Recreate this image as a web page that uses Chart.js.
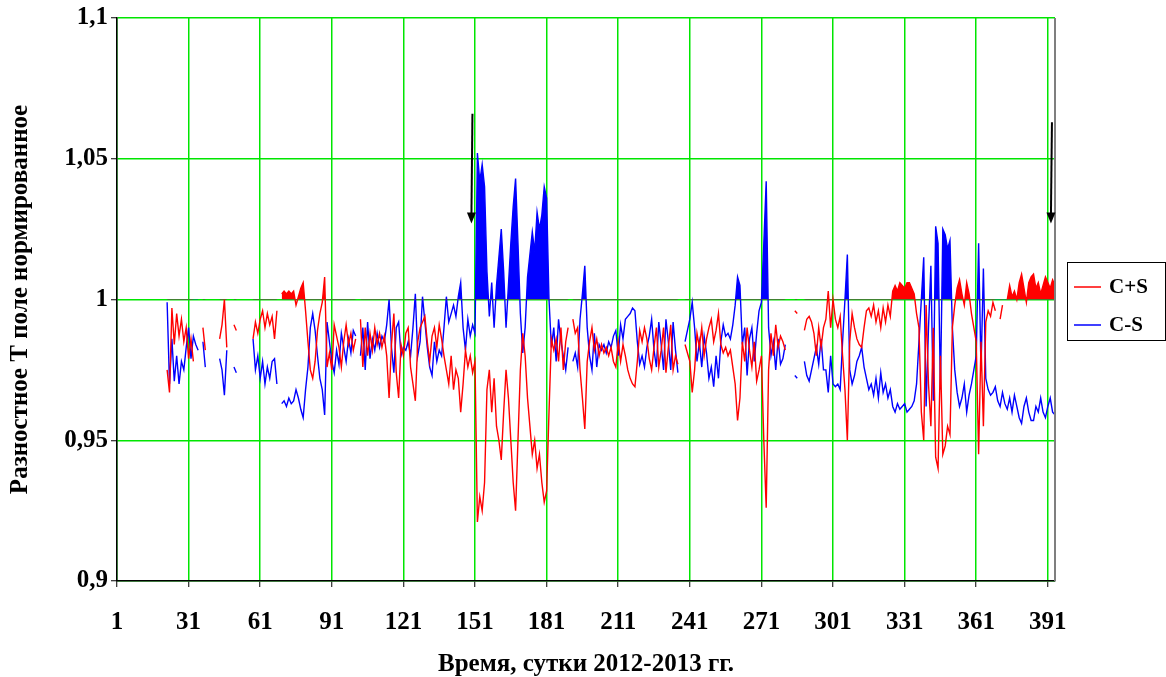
<!DOCTYPE html>
<html><head><meta charset="utf-8">
<script src="https://cdn.jsdelivr.net/npm/chart.js@4.4.1/dist/chart.umd.min.js"></script>
<style>html,body{margin:0;padding:0;background:#fff;overflow:hidden}</style>
</head><body>
<canvas id="c" width="1166" height="677"></canvas>
<script>
const firstDay = 22;
const seriesNames = ['C+S', 'C-S'];
const cps = [
0.975,0.967,0.997,0.984,0.995,0.987,0.993,0.985,0.990,0.979,
0.986,0.978,null,null,null,0.990,0.982,null,null,null,
null,null,0.986,0.991,1.000,0.983,null,null,0.991,0.989,
null,null,null,null,null,null,0.986,0.992,0.988,0.993,
0.996,0.990,0.995,0.991,0.994,0.986,0.996,null,1.002,1.003,
1.002,1.003,1.002,1.003,0.998,1.001,1.004,1.006,0.996,0.985,
0.975,0.972,0.978,0.989,0.995,0.999,1.008,0.976,0.981,0.975,
0.991,0.987,0.983,0.976,0.985,0.991,0.984,0.988,0.982,0.986,
null,0.993,0.976,0.990,0.980,0.988,0.982,0.990,0.984,0.988,
0.983,0.987,0.980,0.965,0.984,0.995,0.974,0.965,0.984,0.980,
0.988,0.990,0.976,0.970,0.964,0.985,0.990,0.992,0.994,0.985,
0.978,0.987,0.990,0.983,0.991,0.986,0.980,0.975,0.970,0.980,
0.968,0.975,0.972,0.960,0.970,0.982,0.976,0.980,0.974,0.978,
0.921,0.930,0.925,0.935,0.968,0.975,0.960,0.972,0.955,0.950,
0.943,0.960,0.975,0.965,0.950,0.935,0.925,0.950,0.975,0.988,
0.980,0.965,0.955,0.945,0.950,0.940,0.945,0.935,0.928,0.932,
0.960,0.986,0.982,0.986,0.978,0.990,0.975,0.985,0.990,null,
0.993,0.988,0.990,0.975,0.965,0.954,0.978,0.985,0.990,0.982,
0.986,0.980,0.984,0.981,0.983,0.980,0.983,0.978,0.976,0.985,
0.978,0.984,0.980,0.975,0.972,0.970,0.969,0.978,0.989,0.985,
0.990,0.986,0.979,0.975,0.983,0.990,0.976,0.982,0.990,0.974,
0.983,0.991,0.975,0.980,0.977,null,null,0.984,0.981,0.978,
0.967,0.975,0.988,0.983,0.990,0.980,0.986,0.990,0.993,0.985,
0.989,0.995,0.984,0.981,0.983,0.980,0.982,0.976,0.970,0.957,
0.965,0.985,0.978,0.990,0.982,0.976,0.985,0.971,0.975,0.980,
0.950,0.926,0.975,0.988,0.980,0.991,0.983,0.987,0.985,0.982,
null,null,null,0.996,0.995,null,null,0.989,0.993,0.994,
0.992,0.988,0.980,0.990,0.983,0.990,0.993,1.003,0.990,1.000,
0.993,0.990,0.994,0.980,0.968,0.950,0.985,0.995,0.990,0.986,
0.984,0.983,0.990,0.996,0.997,0.994,0.998,0.992,0.996,0.990,
0.997,0.992,0.998,0.994,1.003,1.005,1.003,1.006,1.005,1.004,
1.006,1.006,1.004,1.002,0.995,0.990,0.960,0.950,0.998,0.970,
0.955,0.990,0.944,0.940,0.980,0.945,0.948,0.955,0.952,0.990,
0.998,1.004,1.007,1.002,0.998,1.006,1.002,0.995,0.990,0.985,
0.945,0.985,0.955,0.992,0.996,0.994,0.999,0.996,null,0.993,
0.998,null,1.000,1.005,1.001,1.003,1.000,1.006,1.009,1.004,
0.999,1.006,1.008,1.009,1.004,1.006,1.002,1.005,1.008,1.006,
1.004,1.007,1.005
];
const cms = [
0.999,0.970,0.986,0.971,0.980,0.970,0.978,0.975,0.983,0.990,
0.979,0.987,0.984,0.982,null,0.985,0.976,null,null,null,
null,null,0.979,0.975,0.966,0.982,null,null,0.976,0.974,
null,null,null,null,null,null,0.986,0.975,0.980,0.972,
0.978,0.970,0.976,0.972,0.978,0.979,0.970,null,0.963,0.964,
0.962,0.965,0.963,0.964,0.968,0.965,0.961,0.958,0.968,0.976,
0.990,0.995,0.989,0.980,0.972,0.968,0.959,0.992,0.985,0.978,
0.974,0.982,0.977,0.988,0.983,0.978,0.986,0.981,0.989,0.987,
null,0.980,0.990,0.975,0.992,0.979,0.986,0.982,0.988,0.983,
0.987,0.985,0.991,1.000,0.983,0.974,0.990,0.992,0.980,0.983,
0.982,0.985,0.980,0.990,1.002,0.980,0.985,1.001,0.992,0.983,
0.976,0.973,0.985,0.978,0.982,0.980,0.990,1.001,0.992,0.995,
0.998,0.994,1.001,1.006,0.990,0.982,0.993,0.987,0.991,0.988,
1.052,1.042,1.048,1.040,1.010,0.994,1.006,0.990,1.005,1.015,
1.025,1.010,0.990,1.005,1.020,1.033,1.043,1.020,0.995,0.981,
0.990,1.008,1.016,1.024,1.017,1.031,1.025,1.030,1.040,1.036,
1.000,0.983,0.990,0.978,0.993,0.985,0.980,0.975,0.983,null,
0.978,0.981,0.976,0.993,1.002,1.012,0.990,0.980,0.975,0.988,
0.976,0.984,0.982,0.984,0.981,0.985,0.983,0.987,0.989,0.980,
0.991,0.986,0.993,0.994,0.995,0.997,0.996,0.985,0.977,0.980,
0.976,0.983,0.987,0.993,0.982,0.976,0.992,0.984,0.975,0.993,
0.985,0.975,0.992,0.982,0.974,null,null,0.985,0.989,0.993,
0.999,0.990,0.978,0.985,0.976,0.987,0.981,0.972,0.976,0.969,
0.980,0.972,0.985,0.991,0.987,0.988,0.986,0.991,0.998,1.008,
1.005,0.984,0.990,0.973,0.986,0.990,0.978,0.988,0.996,0.999,
1.020,1.042,0.990,0.980,0.985,0.975,0.986,0.977,0.979,0.984,
null,null,null,0.973,0.972,null,null,0.978,0.973,0.971,
0.975,0.979,0.983,0.977,0.986,0.975,0.975,0.967,0.980,0.970,
0.969,0.970,0.968,0.985,1.000,1.016,0.975,0.970,0.973,0.978,
0.980,0.983,0.976,0.972,0.968,0.970,0.966,0.972,0.965,0.974,
0.967,0.970,0.965,0.968,0.962,0.960,0.963,0.961,0.962,0.963,
0.960,0.961,0.962,0.964,0.970,0.985,1.000,1.015,0.962,0.990,
1.012,0.964,1.026,1.020,0.968,1.025,1.023,1.018,1.021,0.990,
0.975,0.967,0.962,0.965,0.970,0.960,0.966,0.970,0.975,0.980,
1.020,0.975,1.011,0.972,0.968,0.966,0.967,0.969,0.964,0.962,
0.967,0.963,0.961,0.965,0.960,0.966,0.962,0.958,0.956,0.962,
0.965,0.960,0.957,0.957,0.962,0.960,0.965,0.960,0.958,0.962,
0.965,0.960,0.959
];
const xTicks = [1,31,61,91,121,151,181,211,241,271,301,331,361,391];
const yTicks = [0.9,0.95,1,1.05,1.1];
const yTickLabels = ['0,9','0,95','1','1,05','1,1'];
const arrowDays = [149.5, 392.3];
const arrowTop = [1.066, 1.063];
const arrowBottom = [1.027, 1.027];

const FONT = "'Liberation Serif','Times New Roman',serif";
const toPts = arr => arr.map((v,i)=>({x:firstDay+i, y:v}));

const extras = {
  id:'extras',
  afterDraw(chart){
    const {ctx, chartArea:a, scales:{x,y}} = chart;
    ctx.save();
    ctx.strokeStyle='#7f7f7f'; ctx.lineWidth=2;
    ctx.beginPath(); ctx.moveTo(a.right, a.top); ctx.lineTo(a.right, a.bottom); ctx.stroke();
    ctx.strokeStyle='#000'; ctx.fillStyle='#000'; ctx.lineWidth=2;
    arrowDays.forEach((d,i)=>{
      const px=x.getPixelForValue(d), t=y.getPixelForValue(arrowTop[i]), b=y.getPixelForValue(arrowBottom[i]);
      ctx.beginPath(); ctx.moveTo(px+1,t); ctx.lineTo(px,b-9); ctx.stroke();
      ctx.beginPath(); ctx.moveTo(px-4.5,b-11); ctx.lineTo(px+4.5,b-11); ctx.lineTo(px,b); ctx.closePath(); ctx.fill();
    });
    // legend
    const lx=1067, ly=262, lw=98, lh=78;
    ctx.lineWidth=1; ctx.strokeStyle='#000';
    ctx.strokeRect(lx+0.5, ly+0.5, lw, lh);
    const cols=['#ff0000','#0000ff'];
    ctx.font = "bold 21px "+FONT; ctx.textBaseline='middle'; ctx.fillStyle='#000';
    seriesNames.forEach((n,i)=>{
      const yy = ly + 25 + i*38;
      ctx.strokeStyle=cols[i]; ctx.lineWidth=1.5;
      ctx.beginPath(); ctx.moveTo(lx+7, yy); ctx.lineTo(lx+34, yy); ctx.stroke();
      ctx.fillText(n, lx+42, yy+1);
    });
    ctx.restore();
  }
};

new Chart(document.getElementById('c'), {
  type:'line',
  data:{ datasets:[
    {label:seriesNames[0], data:toPts(cps), borderColor:'#ff0000', borderWidth:1.4, pointRadius:0, spanGaps:false,
     fill:{target:{value:1}, above:'#ff0000', below:'rgba(0,0,0,0)'}},
    {label:seriesNames[1], data:toPts(cms), borderColor:'#0000ff', borderWidth:1.4, pointRadius:0, spanGaps:false,
     fill:{target:{value:1}, above:'#0000ff', below:'rgba(0,0,0,0)'}}
  ]},
  options:{
    responsive:false, animation:false, devicePixelRatio:1,
    layout:{padding:{top:18,right:111,left:0,bottom:0}},
    plugins:{legend:{display:false}, tooltip:{enabled:false}},
    elements:{line:{tension:0}},
    scales:{
      x:{type:'linear', min:1, max:394,
        afterBuildTicks:s=>{s.ticks = xTicks.map(v=>({value:v}));},
        afterFit:s=>{s.height=96;},
        ticks:{color:'#000', font:{family:FONT, size:25, weight:'bold'}, padding:21, maxRotation:0, autoSkip:false, callback:v=>String(v)},
        grid:{color:'#00e600', lineWidth:1.5, tickLength:6, tickColor:'#000', tickWidth:1},
        border:{color:'#000', width:1.5},
        title:{display:true, text:'Время, сутки 2012-2013 гг.', color:'#000', font:{family:FONT, size:25, weight:'bold'}, padding:{top:0,bottom:-3}}
      },
      y:{type:'linear', min:0.9, max:1.1,
        afterBuildTicks:s=>{s.ticks = yTicks.map(v=>({value:v}));},
        afterFit:s=>{s.width=117;},
        ticks:{color:'#000', font:{family:FONT, size:25, weight:'bold'}, padding:3, callback:(v,i)=>yTickLabels[i]},
        grid:{color:'#00e600', lineWidth:1.5, tickLength:6, tickColor:'#000', tickWidth:1},
        border:{color:'#000', width:1.5},
        title:{display:true, text:'Разностное Т поле нормированное', color:'#000', font:{family:FONT, size:25, weight:'bold'}, padding:{top:6,bottom:0}}
      }
    }
  },
  plugins:[extras]
});
</script>
</body></html>
